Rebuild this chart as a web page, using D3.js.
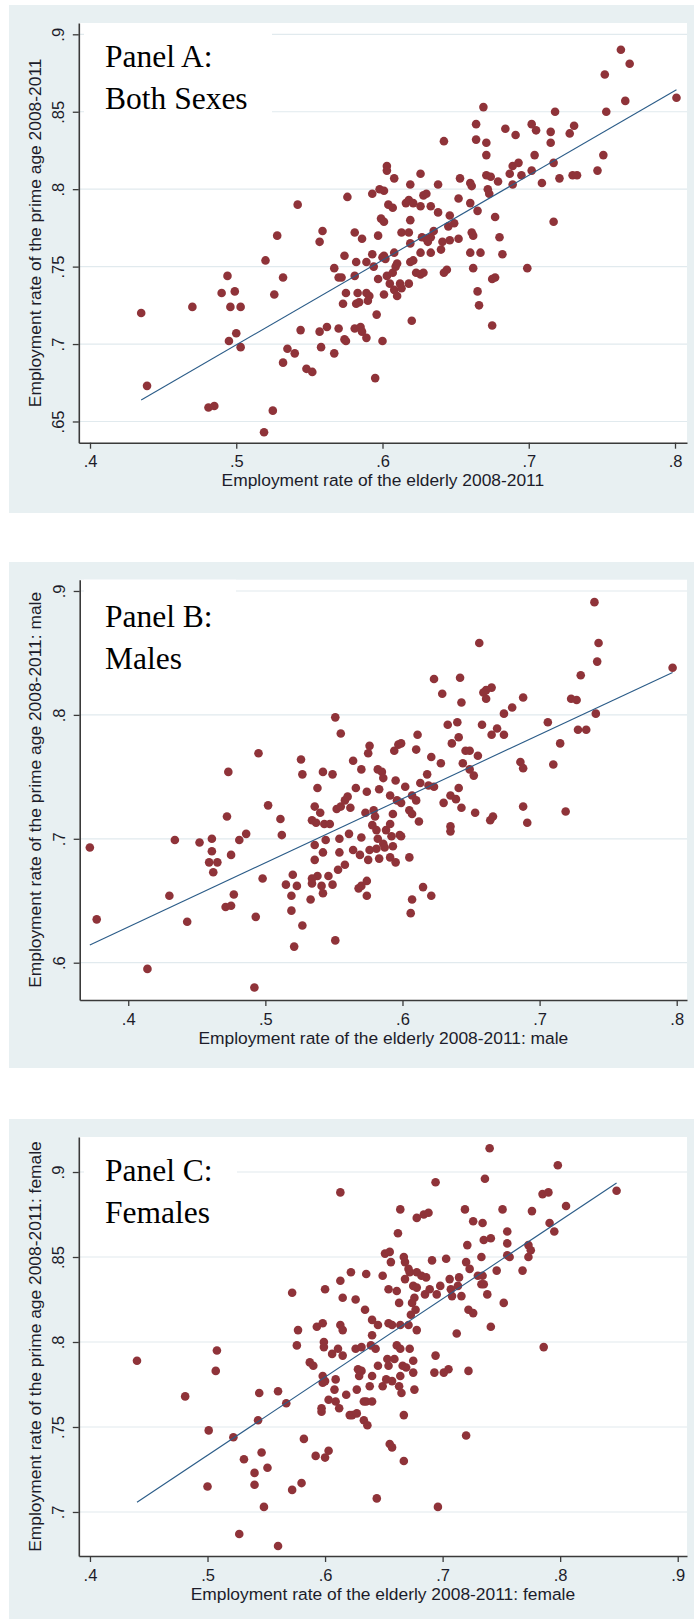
<!DOCTYPE html>
<html>
<head>
<meta charset="utf-8">
<script src="https://cdn.jsdelivr.net/npm/d3@7"></script>
<style>
  html, body { margin: 0; padding: 0; background: #ffffff; }
  svg { display: block; }
</style>
</head>
<body>
<svg id="chart" width="694" height="1619"></svg>
<script>
// ---- Data: [employment rate of the elderly, employment rate of the prime age] ----
const bothSexes = [
  [0.435,0.720],[0.439,0.673],[0.470,0.724],[0.490,0.733],[0.494,0.744],[0.499,0.734],
  [0.496,0.724],[0.503,0.724],[0.500,0.707],[0.495,0.702],[0.503,0.698],[0.481,0.659],
  [0.485,0.660],[0.525,0.657],[0.519,0.643],[0.520,0.754],[0.528,0.770],[0.532,0.743],
  [0.526,0.732],[0.542,0.790],[0.544,0.709],[0.535,0.697],[0.540,0.694],[0.532,0.688],
  [0.548,0.684],[0.552,0.682],[0.559,0.773],[0.557,0.766],[0.557,0.708],[0.562,0.711],
  [0.558,0.698],[0.567,0.694],[0.570,0.710],[0.574,0.703],[0.575,0.702],[0.567,0.749],
  [0.570,0.743],[0.572,0.743],[0.574,0.757],[0.576,0.795],[0.575,0.733],[0.573,0.726],
  [0.581,0.772],[0.586,0.768],[0.582,0.753],[0.581,0.744],[0.583,0.733],[0.582,0.726],
  [0.584,0.727],[0.589,0.733],[0.591,0.731],[0.590,0.728],[0.589,0.753],[0.593,0.758],
  [0.593,0.797],[0.598,0.800],[0.597,0.770],[0.596,0.719],[0.595,0.678],[0.600,0.702],
  [0.581,0.710],[0.585,0.711],[0.586,0.708],[0.589,0.704],[0.594,0.750],[0.597,0.742],
  [0.600,0.756],[0.599,0.781],
  [0.763,0.890],[0.769,0.881],[0.752,0.874],[0.766,0.857],[0.801,0.859],[0.753,0.850],
  [0.751,0.822],[0.747,0.812],[0.730,0.809],[0.733,0.809],[0.721,0.807],[0.717,0.779],
  [0.717,0.817],[0.709,0.804],[0.702,0.812],[0.704,0.822],[0.695,0.809],[0.689,0.803],
  [0.687,0.810],[0.689,0.815],[0.693,0.817],[0.699,0.749],[0.702,0.842],[0.705,0.838],
  [0.715,0.837],[0.715,0.830],[0.718,0.850],[0.728,0.836],[0.731,0.841],[0.684,0.839],
  [0.691,0.835],[0.669,0.853],[0.664,0.842],[0.664,0.832],[0.671,0.830],[0.671,0.822],
  [0.671,0.809],[0.674,0.808],[0.679,0.805],[0.672,0.800],[0.673,0.797],[0.677,0.782],
  [0.680,0.769],[0.682,0.758],[0.677,0.743],[0.675,0.742],[0.665,0.734],[0.666,0.725],
  [0.675,0.712],[0.662,0.749],[0.667,0.759],[0.660,0.759],[0.661,0.772],[0.662,0.770],
  [0.660,0.791],[0.665,0.786],[0.652,0.794],[0.653,0.807],[0.660,0.804],[0.661,0.802],
  [0.652,0.768],[0.646,0.767],[0.646,0.783],[0.649,0.778],[0.645,0.776],[0.640,0.761],
  [0.641,0.766],[0.644,0.748],[0.642,0.746],[0.638,0.803],[0.642,0.831],[0.626,0.810],
  [0.619,0.803],[0.608,0.807],[0.603,0.815],[0.603,0.812],[0.601,0.799],[0.616,0.791],
  [0.618,0.793],[0.621,0.791],[0.626,0.789],[0.628,0.796],[0.630,0.797],[0.633,0.789],
  [0.638,0.785],[0.604,0.790],[0.607,0.788],[0.601,0.779],[0.619,0.780],[0.613,0.772],
  [0.618,0.772],[0.619,0.765],[0.627,0.769],[0.630,0.768],[0.633,0.769],[0.635,0.773],
  [0.631,0.766],[0.626,0.759],[0.633,0.759],[0.608,0.759],[0.601,0.757],[0.602,0.755],
  [0.603,0.744],[0.607,0.746],[0.609,0.750],[0.610,0.752],[0.619,0.753],[0.621,0.754],
  [0.623,0.746],[0.626,0.745],[0.628,0.746],[0.605,0.739],[0.612,0.739],[0.618,0.739],
  [0.608,0.735],[0.610,0.731],[0.601,0.732],[0.613,0.736],[0.620,0.715]
];

const males = [
  [0.372,0.693],[0.377,0.635],[0.414,0.595],[0.430,0.654],[0.434,0.699],[0.443,0.633],
  [0.452,0.697],[0.461,0.700],[0.461,0.690],[0.459,0.681],[0.465,0.681],[0.462,0.673],
  [0.472,0.718],[0.473,0.754],[0.475,0.687],[0.481,0.699],[0.486,0.704],[0.477,0.655],
  [0.471,0.645],[0.475,0.646],[0.493,0.637],[0.492,0.580],[0.495,0.769],[0.502,0.727],
  [0.498,0.668],[0.511,0.716],[0.512,0.703],[0.515,0.663],[0.520,0.671],[0.523,0.662],
  [0.519,0.654],[0.519,0.642],[0.521,0.613],[0.527,0.630],[0.526,0.764],[0.527,0.752],
  [0.536,0.726],[0.540,0.721],[0.534,0.715],[0.537,0.713],[0.543,0.712],[0.547,0.712],
  [0.538,0.741],[0.542,0.754],[0.549,0.752],[0.551,0.798],[0.555,0.785],[0.536,0.695],
  [0.544,0.699],[0.542,0.689],[0.536,0.683],[0.538,0.670],[0.534,0.668],[0.534,0.664],
  [0.541,0.662],[0.542,0.656],[0.546,0.670],[0.549,0.663],[0.533,0.651],[0.551,0.618],
  [0.554,0.700],[0.554,0.689],[0.553,0.675],[0.558,0.679],[0.552,0.724],[0.555,0.726],
  [0.558,0.731],[0.560,0.734],[0.562,0.725],[0.561,0.704],[0.564,0.763],[0.570,0.756],
  [0.566,0.741],[0.564,0.691],[0.570,0.701],[0.569,0.687],[0.575,0.683],[0.568,0.660],
  [0.570,0.662],[0.574,0.666],[0.574,0.654],[0.573,0.721],[0.574,0.738],[0.575,0.769],
  [0.576,0.775],[0.582,0.756],[0.585,0.754],[0.583,0.740],[0.586,0.749],[0.579,0.723],
  [0.580,0.718],[0.578,0.711],[0.581,0.707],[0.582,0.700],[0.576,0.691],[0.581,0.692],
  [0.583,0.684],[0.586,0.696],[0.588,0.707],[0.591,0.712],[0.593,0.720],[0.591,0.735],
  [0.596,0.731],[0.595,0.747],[0.594,0.771],[0.597,0.776],[0.591,0.685],[0.595,0.681],
  [0.587,0.693],[0.593,0.694],[0.598,0.703],[0.592,0.702],
  [0.740,0.891],[0.743,0.858],[0.742,0.843],[0.797,0.838],[0.730,0.832],[0.723,0.813],
  [0.727,0.812],[0.741,0.801],[0.728,0.788],[0.734,0.788],[0.715,0.777],[0.710,0.760],
  [0.706,0.794],[0.719,0.722],[0.688,0.814],[0.680,0.806],[0.674,0.801],[0.674,0.784],
  [0.669,0.789],[0.665,0.784],[0.658,0.792],[0.656,0.858],[0.665,0.822],[0.661,0.820],
  [0.659,0.818],[0.661,0.813],[0.642,0.830],[0.643,0.810],[0.623,0.829],[0.629,0.817],
  [0.640,0.794],[0.633,0.792],[0.641,0.782],[0.636,0.777],[0.646,0.771],[0.649,0.771],
  [0.655,0.767],[0.644,0.761],[0.649,0.756],[0.652,0.751],[0.686,0.762],[0.688,0.757],
  [0.688,0.726],[0.691,0.713],[0.653,0.721],[0.664,0.715],[0.666,0.718],[0.611,0.784],
  [0.610,0.772],[0.621,0.766],[0.628,0.761],[0.618,0.752],[0.613,0.745],[0.619,0.743],
  [0.623,0.742],[0.602,0.742],[0.641,0.741],[0.635,0.735],[0.639,0.732],[0.643,0.725],
  [0.630,0.729],[0.607,0.735],[0.610,0.731],[0.599,0.777],[0.599,0.729],[0.605,0.723],
  [0.607,0.720],[0.612,0.714],[0.635,0.710],[0.635,0.706],[0.599,0.702],[0.605,0.685],
  [0.615,0.661],[0.621,0.654],[0.607,0.651],[0.606,0.640]
];

const females = [
  [0.440,0.789],[0.481,0.768],[0.508,0.795],[0.507,0.783],[0.501,0.748],[0.500,0.715],
  [0.522,0.744],[0.527,0.687],[0.531,0.731],[0.540,0.723],[0.540,0.716],[0.544,0.770],
  [0.543,0.754],[0.546,0.735],[0.551,0.726],[0.548,0.703],[0.560,0.680],[0.560,0.771],
  [0.567,0.764],[0.572,0.829],[0.577,0.807],[0.576,0.798],[0.582,0.743],[0.572,0.713],
  [0.580,0.717],[0.587,0.788],[0.590,0.786],[0.592,0.733],[0.600,0.732],[0.603,0.736],
  [0.593,0.809],[0.598,0.811],[0.600,0.831],[0.599,0.800],[0.599,0.797],[0.598,0.780],
  [0.600,0.777],[0.598,0.776],[0.597,0.761],[0.597,0.759],[0.609,0.778],[0.608,0.772],
  [0.603,0.766],[0.609,0.765],[0.612,0.761],[0.606,0.793],[0.611,0.796],[0.615,0.792],
  [0.613,0.836],[0.615,0.826],[0.613,0.810],[0.615,0.807],[0.613,0.888],[0.618,0.769],
  [0.621,0.757],[0.623,0.757],[0.627,0.758],[0.622,0.841],[0.626,0.825],[0.626,0.796],
  [0.631,0.797],[0.627,0.772],[0.628,0.784],[0.631,0.783],[0.629,0.780],[0.633,0.765],
  [0.635,0.765],[0.640,0.765],[0.633,0.754],[0.636,0.751],[0.634,0.819],[0.635,0.840],
  [0.640,0.813],[0.640,0.804],[0.639,0.798],[0.643,0.796],[0.638,0.774],[0.640,0.780],
  [0.645,0.810],[0.645,0.786],[0.649,0.774],[0.649,0.839],[0.651,0.852],[0.655,0.853],
  [0.656,0.847],[0.654,0.831],[0.661,0.830],[0.663,0.823],[0.662,0.864],[0.664,0.878],
  [0.654,0.811],[0.657,0.810],[0.664,0.810],[0.671,0.810],[0.678,0.807],[0.661,0.798],
  [0.664,0.796],[0.672,0.796],[0.653,0.790],[0.659,0.790],[0.654,0.786],[0.666,0.786],
  [0.669,0.785],[0.675,0.789],[0.675,0.782],[0.664,0.780],[0.652,0.778],[0.657,0.777],
  [0.663,0.774],[0.665,0.770],[0.676,0.772],[0.667,0.757],[0.655,0.740],[0.657,0.738],
  [0.667,0.730],[0.644,0.708],[0.696,0.703],[0.694,0.792],[0.693,0.782],[0.691,0.848],
  [0.667,0.850],[0.668,0.847],[0.671,0.843],[0.672,0.841],[0.678,0.841],[0.682,0.839],
  [0.686,0.838],[0.668,0.837],[0.675,0.833],[0.678,0.832],[0.676,0.826],[0.674,0.823],
  [0.673,0.816],[0.677,0.819],[0.685,0.828],[0.689,0.831],[0.695,0.828],[0.698,0.833],
  [0.678,0.873],[0.684,0.875],[0.688,0.876],[0.694,0.894],
  [0.740,0.914],[0.798,0.904],[0.736,0.896],[0.848,0.889],[0.785,0.887],[0.790,0.888],
  [0.805,0.880],[0.719,0.878],[0.751,0.878],[0.776,0.877],[0.726,0.871],[0.734,0.870],
  [0.791,0.870],[0.755,0.865],[0.795,0.865],[0.735,0.860],[0.741,0.861],[0.721,0.857],
  [0.755,0.858],[0.773,0.857],[0.775,0.854],[0.755,0.851],[0.757,0.850],[0.773,0.850],
  [0.733,0.850],[0.703,0.849],[0.720,0.847],[0.723,0.843],[0.746,0.842],[0.768,0.842],
  [0.730,0.839],[0.734,0.839],[0.714,0.838],[0.706,0.837],[0.733,0.834],[0.735,0.834],
  [0.713,0.833],[0.707,0.831],[0.708,0.827],[0.716,0.827],[0.738,0.828],[0.752,0.823],
  [0.722,0.819],[0.726,0.817],[0.741,0.809],[0.712,0.805],[0.786,0.797],[0.722,0.783],
  [0.705,0.784],[0.701,0.782],[0.720,0.745]
];

// Linear fits: [intercept, slope]
const fitBoth = [0.4258, 0.5473];
const fitMales = [0.4219, 0.5174];
const fitFemales = [0.5032, 0.4603];

// Tick values
const xTicksBoth = [0.4, 0.5, 0.6, 0.7, 0.8];
const yTicksBoth = [0.65, 0.7, 0.75, 0.8, 0.85, 0.9];
const xTicksMales = [0.4, 0.5, 0.6, 0.7, 0.8];
const yTicksMales = [0.6, 0.7, 0.8, 0.9];
const xTicksFemales = [0.4, 0.5, 0.6, 0.7, 0.8, 0.9];
const yTicksFemales = [0.7, 0.75, 0.8, 0.85, 0.9];

// Text
const panelTitles = [["Panel A:", "Both Sexes"], ["Panel B:", "Males"], ["Panel C:", "Females"]];
const xTitles = [
  "Employment rate of the elderly 2008-2011",
  "Employment rate of the elderly 2008-2011: male",
  "Employment rate of the elderly 2008-2011: female"
];
const yTitles = [
  "Employment rate of the prime age 2008-2011",
  "Employment rate of the prime age 2008-2011: male",
  "Employment rate of the prime age 2008-2011: female"
];

// ---- Drawing ----
const svg = d3.select("#chart");
const BG = "#e8f0f2", GRID = "#e1eaee", MARKER = "#8f3339", FITLINE = "#2b5c88", AXIS = "#3a3a3a";
const SANS = "'Liberation Sans', Arial, sans-serif";
const fmt = d => String(d).replace(/^0/, "");

const panels = [
  { data: bothSexes, fit: fitBoth, xt: xTicksBoth, yt: yTicksBoth,
    bg: [5, 513], plot: { l: 78.8, r: 687, t: 23, b: 442.7 },
    xd: [0.39234, 0.8082], yd: [0.6363, 0.9073],
    box: { r: 272, b: 123 }, base: [66.7, 109.3] },
  { data: males, fit: fitMales, xt: xTicksMales, yt: yTicksMales,
    bg: [562, 1068], plot: { l: 79.7, r: 687, t: 579.7, b: 1000 },
    xd: [0.3646, 0.8075], yd: [0.5699, 0.9091],
    box: { r: 236, b: 680 }, base: [627, 668.7] },
  { data: females, fit: fitFemales, xt: xTicksFemales, yt: yTicksFemales,
    bg: [1119, 1619], plot: { l: 78.8, r: 687, t: 1137, b: 1556 },
    xd: [0.3905, 0.9079], yd: [0.6741, 0.9206],
    box: { r: 237, b: 1236 }, base: [1181.3, 1223] }
];

panels.forEach((p, i) => {
  const g = svg.append("g");
  const P = p.plot;

  // graph region background
  g.append("rect").attr("x", 9).attr("y", p.bg[0]).attr("width", 694 - 9)
    .attr("height", p.bg[1] - p.bg[0]).attr("fill", BG);
  // plot region
  g.append("rect").attr("x", P.l).attr("y", P.t).attr("width", P.r - P.l)
    .attr("height", P.b - P.t).attr("fill", "#ffffff");

  const x = d3.scaleLinear().domain(p.xd).range([P.l, P.r]);
  const y = d3.scaleLinear().domain(p.yd).range([P.b, P.t]);

  // horizontal grid lines
  g.append("g").selectAll("line").data(p.yt).join("line")
    .attr("x1", P.l).attr("x2", P.r)
    .attr("y1", d => y(d)).attr("y2", d => y(d))
    .attr("stroke", GRID).attr("stroke-width", 1.2);

  // white box behind panel caption
  g.append("rect").attr("x", 84).attr("y", P.t).attr("width", p.box.r - 84)
    .attr("height", p.box.b - P.t).attr("fill", "#ffffff");

  // caption
  panelTitles[i].forEach((t, k) => {
    g.append("text").attr("x", 105).attr("y", p.base[k])
      .attr("font-family", "'Liberation Serif', 'Times New Roman', serif")
      .attr("font-size", 31.5).attr("fill", "#000").text(t);
  });

  // scatter points
  g.append("g").selectAll("circle").data(p.data).join("circle")
    .attr("cx", d => x(d[0])).attr("cy", d => y(d[1])).attr("r", 4.3)
    .attr("fill", MARKER);

  // fitted line across the observed range
  const xe = d3.extent(p.data, d => d[0]);
  g.append("path")
    .datum(xe.map(v => [v, p.fit[0] + p.fit[1] * v]))
    .attr("d", d3.line().x(d => x(d[0])).y(d => y(d[1])))
    .attr("fill", "none").attr("stroke", FITLINE).attr("stroke-width", 1.1);

  // axes
  const ax = g.append("g").attr("transform", `translate(0,${P.b})`)
    .call(d3.axisBottom(x).tickValues(p.xt).tickFormat(fmt).tickSize(6).tickSizeOuter(0));
  const ay = g.append("g").attr("transform", `translate(${P.l},0)`)
    .call(d3.axisLeft(y).tickValues(p.yt).tickFormat(fmt).tickSize(6).tickSizeOuter(0));

  [ax, ay].forEach(a => {
    a.select(".domain").attr("stroke", AXIS).attr("stroke-width", 1.6);
    a.selectAll(".tick line").attr("stroke", AXIS).attr("stroke-width", 1.3);
    a.selectAll("text").attr("font-family", SANS)
      .attr("font-size", 16.5).attr("fill", "#1c1c2a");
  });
  ax.selectAll("text").attr("dy", null).attr("y", 24.5);
  ay.selectAll("text").attr("x", null).attr("dy", null)
    .attr("text-anchor", "middle").attr("transform", "translate(-15,0) rotate(-90)");

  // axis titles
  g.append("text").attr("x", (P.l + P.r) / 2).attr("y", P.b + 43.5)
    .attr("text-anchor", "middle")
    .attr("font-family", SANS)
    .attr("font-size", 17.4).attr("fill", "#1c1c2a").text(xTitles[i]);
  g.append("text")
    .attr("transform", `translate(41,${(P.t + P.b) / 2}) rotate(-90)`)
    .attr("text-anchor", "middle")
    .attr("font-family", SANS)
    .attr("font-size", 17.4).attr("fill", "#1c1c2a").text(yTitles[i]);
});
</script>
</body>
</html>
